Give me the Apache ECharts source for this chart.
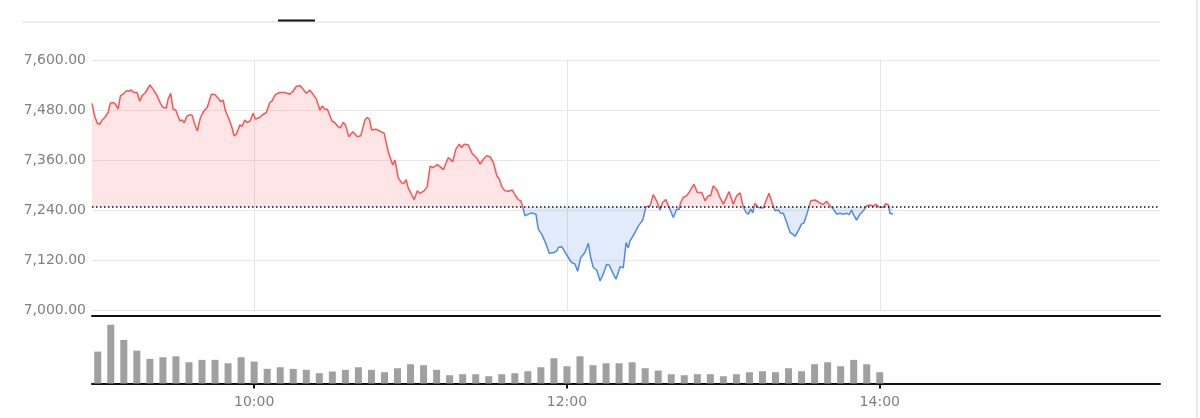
<!DOCTYPE html>
<html>
<head>
<meta charset="utf-8">
<title>分时图</title>
<script src="https://cdn.jsdelivr.net/npm/echarts@6/dist/echarts.min.js"></script>
<style>
  html, body { margin: 0; padding: 0; background: #fff; }
  #chart { width: 1200px; height: 418px; }
</style>
</head>
<body>
<div id="chart"></div>
<script>
// minutes after 09:00 for each price reading
var priceMinutes = [
  -2.2, -1.2, -0.2, 0.8, 1.7, 2.7, 3.3, 4.0, 4.8, 5.9, 6.8, 7.8, 8.7, 9.7, 11.0, 11.9, 12.9, 13.8, 15.1, 16.1,
  17.0, 18.3, 20.0, 21.2, 22.8, 24.2, 25.1, 26.3, 27.0, 28.0, 28.9, 29.9, 31.5, 32.5, 33.1, 34.3, 35.5, 36.3, 37.2, 38.2,
  39.4, 40.8, 42.0, 43.6, 44.9, 46.2, 47.2, 48.1, 49.0, 50.6, 51.5, 52.3, 53.2, 54.5, 55.4, 56.4, 57.3, 58.5, 59.6, 60.5,
  62.1, 63.1, 64.7, 66.0, 66.9, 68.1, 69.8, 71.7, 73.7, 74.9, 76.2, 77.7, 78.8, 80.0, 81.3, 82.3, 83.9, 85.2, 86.2, 87.1,
  88.1, 89.9, 90.9, 92.2, 93.1, 94.1, 95.0, 96.3, 97.9, 99.6, 100.9, 102.5, 103.4, 104.2, 105.1, 106.8, 108.3, 109.9, 111.5, 113.2,
  114.0, 115.3, 116.6, 117.5, 118.3, 119.1, 120.5, 121.4, 122.6, 123.6, 125.2, 126.4, 127.5, 128.7, 130.3, 131.3, 132.6, 134.5, 136.2, 137.4,
  138.7, 139.6, 140.6, 142.2, 143.5, 145.4, 146.7, 147.7, 149.2, 150.5, 151.8, 153.1, 154.1, 155.0, 156.2, 157.5, 159.0, 160.1, 161.3, 162.3,
  163.0, 163.9, 165.2, 166.5, 168.1, 169.0, 170.3, 172.0, 173.2, 175.0, 176.1, 176.7, 178.0, 179.0, 180.5, 181.8, 183.1, 184.1, 185.3, 186.9,
  188.2, 189.1, 190.1, 191.4, 192.7, 193.9, 195.2, 196.2, 197.8, 198.8, 200.4, 201.6, 202.7, 203.5, 204.2, 206.1, 207.4, 209.1, 210.3, 211.9,
  213.1, 213.8, 214.7, 215.7, 216.7, 217.9, 219.2, 220.8, 222.1, 223.0, 223.6, 224.6, 225.9, 227.2, 228.7, 230.0, 231.7, 233.0, 234.2, 235.1,
  236.1, 237.7, 238.7, 240.0, 242.2, 243.8, 245.1, 246.4, 247.6, 248.7, 249.6, 250.5, 251.3, 252.1, 253.4, 255.3, 256.6, 257.5, 258.9, 259.8,
  261.1, 262.0, 263.0, 264.3, 265.6, 266.6, 267.5, 268.7, 270.0, 270.9, 272.0, 273.5, 275.2, 276.8, 278.3, 279.6, 280.9, 282.2, 283.5, 284.7,
  286.0, 287.3, 288.3, 289.2, 289.8, 291.1, 292.4, 293.7, 295.0, 296.2, 297.5, 298.5, 299.8, 301.3, 302.3, 303.3, 303.9, 305.0
];
var prices = [
  7496, 7466, 7448, 7446, 7456, 7462, 7462, 7474, 7496, 7498, 7494, 7482, 7514, 7518, 7526, 7525, 7528, 7522, 7522, 7501,
  7514, 7522, 7540, 7530, 7514, 7494, 7486, 7485, 7506, 7520, 7482, 7480, 7454, 7456, 7449, 7466, 7469, 7466, 7446, 7430,
  7462, 7478, 7486, 7518, 7517, 7508, 7500, 7504, 7478, 7454, 7438, 7418, 7422, 7444, 7441, 7456, 7450, 7454, 7472, 7458,
  7462, 7468, 7474, 7498, 7502, 7517, 7522, 7522, 7518, 7525, 7537, 7538, 7530, 7520, 7528, 7520, 7506, 7480, 7490, 7482,
  7482, 7453, 7450, 7440, 7437, 7450, 7445, 7416, 7428, 7416, 7418, 7456, 7462, 7458, 7432, 7434, 7429, 7424, 7378, 7348,
  7360, 7317, 7305, 7304, 7313, 7293, 7276, 7265, 7286, 7280, 7286, 7296, 7345, 7342, 7349, 7344, 7337, 7366, 7356, 7386,
  7398, 7390, 7398, 7396, 7377, 7365, 7350, 7360, 7370, 7368, 7354, 7322, 7314, 7296, 7286, 7285, 7288, 7276, 7265, 7262,
  7248, 7226, 7230, 7233, 7230, 7194, 7182, 7158, 7136, 7138, 7142, 7150, 7152, 7142, 7126, 7114, 7110, 7093, 7126, 7138,
  7160, 7126, 7102, 7096, 7070, 7086, 7109, 7108, 7086, 7074, 7104, 7101, 7162, 7149, 7166, 7186, 7202, 7216, 7248, 7250,
  7277, 7278, 7258, 7240, 7258, 7265, 7246, 7222, 7242, 7241, 7258, 7270, 7274, 7286, 7302, 7282, 7282, 7262, 7274, 7274,
  7298, 7286, 7270, 7254, 7284, 7254, 7274, 7281, 7248, 7234, 7230, 7242, 7233, 7256, 7246, 7245, 7266, 7280, 7254, 7238,
  7240, 7232, 7232, 7210, 7186, 7182, 7177, 7190, 7206, 7209, 7229, 7262, 7264, 7258, 7253, 7261, 7250, 7242, 7230, 7232,
  7230, 7232, 7229, 7240, 7230, 7216, 7230, 7238, 7250, 7252, 7249, 7254, 7247, 7246, 7255, 7252, 7232, 7230
];
var prevClose = 7247;

// 5-minute volume bars, minutes after 09:00
var volumeMinutes = [];
for (var i = 0; i <= 60; i++) volumeMinutes.push(i * 5);
var volumes = [
  320, 590, 437, 330, 247, 263, 273, 213, 237, 237, 203, 263,
  220, 147, 163, 147, 137, 103, 120, 137, 163, 137, 113, 153,
  193, 183, 137, 83, 93, 93, 73, 93, 103, 123, 163, 253,
  173, 273, 183, 203, 203, 213, 153, 130, 93, 83, 93, 93,
  73, 93, 113, 123, 113, 153, 123, 193, 213, 173, 237, 193,
  113
];

var timeTicks = [60, 180, 300];   // 10:00 12:00 14:00
var xMin = -2.2, xMax = 407.5;

var upColor = '#ff5252', downColor = '#4f8ae6';
var upFill = 'rgba(255,82,82,0.22)', downFill = 'rgba(79,138,230,0.24)';

function timeLabel(v) {
  var h = 9 + Math.floor(v / 60);
  var m = Math.round(v % 60);
  return h + ':' + (m < 10 ? '0' + m : m);
}

var priceData = priceMinutes.map(function (m, i) { return [m, prices[i]]; });
var volumeData = volumeMinutes.map(function (m, i) { return [m, volumes[i]]; });

var chart = echarts.init(document.getElementById('chart'));

var option = {
  animation: false,
  textStyle: { fontFamily: 'DejaVu Sans' },
  graphic: [
    { type: 'line', shape: { x1: 22, y1: 22, x2: 1160, y2: 22 }, style: { stroke: '#e8e8e8', lineWidth: 1.5 } },
    { type: 'line', shape: { x1: 278, y1: 20.5, x2: 315, y2: 20.5 }, style: { stroke: '#111', lineWidth: 2 } },
    { type: 'line', shape: { x1: 1197, y1: 0, x2: 1197, y2: 418 }, style: { stroke: '#e4e4e4', lineWidth: 1.5 } }
  ],
  grid: [
    { left: 92, right: 40, top: 60, height: 250 },
    { left: 92, right: 40, top: 316, height: 67.5 }
  ],
  xAxis: [
    {
      type: 'value', gridIndex: 0, min: xMin, max: xMax,
      axisLine: { show: false },
      axisTick: { show: false, customValues: timeTicks },
      axisLabel: { show: false, customValues: timeTicks },
      splitLine: { show: true, lineStyle: { color: '#e6e6e6', width: 1 } }
    },
    {
      type: 'value', gridIndex: 1, min: xMin, max: xMax,
      axisLine: { show: true, onZero: false, lineStyle: { color: '#111', width: 2 } },
      axisTick: { show: true, length: 5, customValues: timeTicks, lineStyle: { color: '#111', width: 2 } },
      axisLabel: {
        show: true, customValues: timeTicks, margin: 12,
        color: '#808080', fontSize: 14, fontFamily: 'DejaVu Sans',
        formatter: timeLabel
      },
      splitLine: { show: false }
    },
    {
      type: 'value', gridIndex: 1, min: xMin, max: xMax, position: 'top',
      axisLine: { show: true, onZero: false, lineStyle: { color: '#111', width: 2 } },
      axisTick: { show: false },
      axisLabel: { show: false },
      splitLine: { show: false }
    }
  ],
  yAxis: [
    {
      type: 'value', gridIndex: 0, min: 7000, max: 7600, interval: 120,
      axisLine: { show: false },
      axisTick: { show: false },
      axisLabel: {
        color: '#808080', fontSize: 14, margin: 6, fontFamily: 'DejaVu Sans',
        formatter: function (v) {
          return v.toLocaleString('en-US', { minimumFractionDigits: 2, maximumFractionDigits: 2 });
        }
      },
      splitLine: { lineStyle: { color: '#e8e8e8', width: 1 } }
    },
    {
      type: 'value', gridIndex: 1, min: 0, max: 677,
      axisLine: { show: false },
      axisTick: { show: false },
      axisLabel: { show: false },
      splitLine: { show: false }
    }
  ],
  series: [
    {
      name: '价格',
      type: 'line',
      xAxisIndex: 0,
      yAxisIndex: 0,
      data: priceData,
      showSymbol: false,
      symbol: 'none',
      lineStyle: { width: 1.5, color: upColor },
      areaStyle: { origin: prevClose, color: upFill },
      markLine: {
        silent: true,
        symbol: ['none', 'none'],
        label: { show: false },
        lineStyle: { color: '#111', type: [1.5, 2.5], width: 1.5 },
        data: [{ yAxis: prevClose }]
      }
    },
    {
      name: '成交量',
      type: 'bar',
      xAxisIndex: 1,
      yAxisIndex: 1,
      data: volumeData,
      barWidth: 7,
      itemStyle: { color: '#a0a0a0' }
    }
  ]
};

chart.setOption(option);

// red above the previous close, blue below: hard stop gradient in pixel space
var yTop = chart.convertToPixel({ yAxisIndex: 0 }, 7600);
var yBottom = chart.convertToPixel({ yAxisIndex: 0 }, 7000);
var yBase = chart.convertToPixel({ yAxisIndex: 0 }, prevClose);
var f = (yBase - yTop) / (yBottom - yTop);
function split(a, b) {
  return {
    type: 'linear', x: 0, y: yTop, x2: 0, y2: yBottom, global: true,
    colorStops: [
      { offset: 0, color: a }, { offset: f, color: a },
      { offset: f, color: b }, { offset: 1, color: b }
    ]
  };
}
option.series[0].lineStyle.color = split(upColor, downColor);
option.series[0].areaStyle.color = split(upFill, downFill);
chart.setOption(option, true);
</script>
</body>
</html>
